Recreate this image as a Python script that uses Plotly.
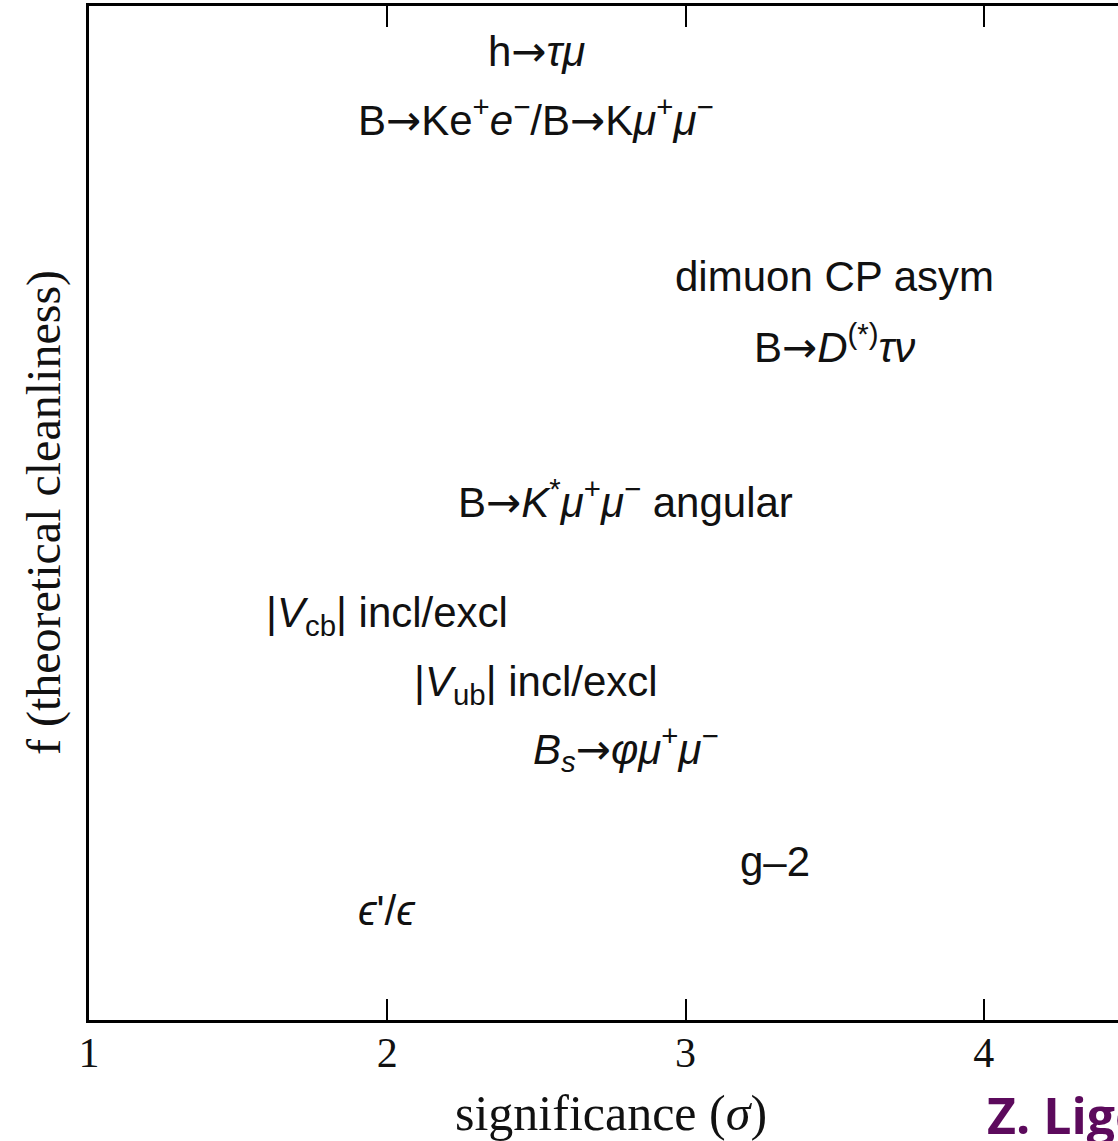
import plotly.graph_objects as go

# Processes placed by experimental significance (x) and theoretical cleanliness (y)
ARROW = "<span style=\"font-family:'DejaVu Sans'\">→</span>"

labels = [
    f"h{ARROW}<i>τμ</i>",
    f"B{ARROW}Ke<sup>+</sup><i>e</i><sup>−</sup>/B{ARROW}K<i>μ</i><sup>+</sup><i>μ</i><sup>−</sup>",
    "dimuon CP asym",
    f"B{ARROW}<i>D</i><sup>(*)</sup><i>τν</i>",
    f"B{ARROW}<i>K</i><sup>*</sup><i>μ</i><sup>+</sup><i>μ</i><sup>−</sup> angular",
    "|<i>V</i><sub>cb</sub>| incl/excl",
    "|<i>V</i><sub>ub</sub>| incl/excl",
    f"<i>B<sub>s</sub></i>{ARROW}<i>φμ</i><sup>+</sup><i>μ</i><sup>−</sup>",
    "g–2",
    "<i>ϵ</i>'/<i>ϵ</i>",
]
significance = [2.5, 2.5, 3.5, 3.5, 2.8, 2.0, 2.5, 2.8, 3.3, 2.0]
cleanliness = [0.955, 0.89, 0.733, 0.666, 0.513, 0.399, 0.331, 0.268, 0.156, 0.108]

x_ticks = [1, 2, 3, 4]
x_range = [1, 4.45]

SANS = "Liberation Sans, Arial, sans-serif"
SERIF = "Liberation Serif, Times New Roman, serif"
INK = "#111111"

fig = go.Figure()

# invisible anchor trace so the axes exist
fig.add_trace(go.Scatter(x=significance, y=cleanliness, mode="markers",
                         marker=dict(opacity=0), hoverinfo="skip", showlegend=False))

for lab, sx, cy in zip(labels, significance, cleanliness):
    fig.add_annotation(x=sx, y=cy, xref="x", yref="y", text=lab, showarrow=False,
                       xanchor="center", yanchor="middle",
                       font=dict(family=SANS, size=42, color=INK))

# axis titles
fig.add_annotation(x=2.75, y=-0.092, xref="x", yref="paper", text="significance (<i>σ</i>)",
                   showarrow=False, xanchor="center", yanchor="middle",
                   font=dict(family=SERIF, size=50, color=INK))
fig.add_annotation(x=-0.0437, y=0.5, xref="paper", yref="paper",
                   text="f (theoretical cleanliness)", textangle=-90,
                   showarrow=False, xanchor="center", yanchor="middle",
                   font=dict(family=SERIF, size=48, color=INK))

# author credit
fig.add_annotation(x=0.8707, y=-0.094, xref="paper", yref="paper", text="<b>Z. Ligeti</b>",
                   showarrow=False, xanchor="left", yanchor="middle",
                   font=dict(family="Open Sans, sans-serif", size=50, color="#5c0a5c"))

fig.update_xaxes(range=x_range, tickvals=x_ticks, ticktext=[str(t) for t in x_ticks],
                 showline=True, linecolor="black", linewidth=2.5, mirror="ticks",
                 ticks="inside", ticklen=21, tickwidth=2, tickcolor="black",
                 tickfont=dict(family=SERIF, size=42, color=INK), ticklabelstandoff=-6,
                 showgrid=False, zeroline=False)
fig.update_yaxes(range=[0, 1], showline=True, linecolor="black", linewidth=2.5,
                 showticklabels=False, ticks="", showgrid=False, zeroline=False)

fig.update_layout(width=1118, height=1141,
                  margin=dict(l=89, r=0, t=6, b=121),
                  paper_bgcolor="white", plot_bgcolor="white")

fig.write_html("out.html")
